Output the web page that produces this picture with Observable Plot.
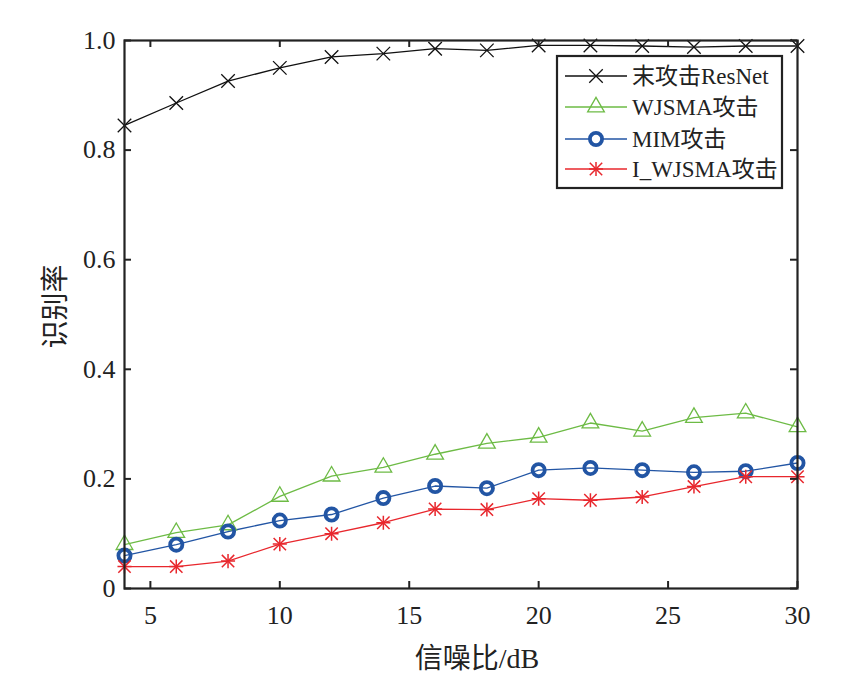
<!DOCTYPE html>
<html>
<head>
<meta charset="utf-8">
<script src="https://cdn.jsdelivr.net/npm/d3@7"></script>
<script src="https://cdn.jsdelivr.net/npm/@observablehq/plot@0.6"></script>
<style>
  html, body { margin: 0; padding: 0; background: #fff; }
  #chart { width: 848px; height: 686px; }
</style>
</head>
<body>
<div id="chart"></div>
<script>
// ---- data ----
const snr = [4, 6, 8, 10, 12, 14, 16, 18, 20, 22, 24, 26, 28, 30];
const resnet = [0.845, 0.886, 0.926, 0.950, 0.970, 0.976, 0.985, 0.982, 0.991, 0.991, 0.990, 0.988, 0.990, 0.990];
const wjsma  = [0.080, 0.102, 0.116, 0.168, 0.205, 0.221, 0.245, 0.265, 0.276, 0.302, 0.287, 0.312, 0.320, 0.295];
const mim    = [0.060, 0.080, 0.104, 0.124, 0.135, 0.165, 0.187, 0.183, 0.216, 0.220, 0.216, 0.212, 0.214, 0.229];
const iwjsma = [0.040, 0.040, 0.050, 0.081, 0.100, 0.120, 0.145, 0.144, 0.164, 0.161, 0.167, 0.186, 0.204, 0.204];

const seriesNames = ["末攻击ResNet", "WJSMA攻击", "MIM攻击", "I_WJSMA攻击"];
const seriesValues = [resnet, wjsma, mim, iwjsma];
const seriesColors = ["#111111", "#6dbb45", "#2255a4", "#e8272d"];
// each marker may be composed of one or more Plot symbols (MATLAB '*' = plus + times)
const seriesSymbols = [[["times", 6.2]], [["triangle", 6.2]], [["circle", 6.1]], [["plus", 4.6], ["times", 5.7]]];
const seriesMarkerWidth = [1.3, 1.3, 3.8, 1.5];

const xTicks = [5, 10, 15, 20, 25, 30];
const yTicks = [0, 0.2, 0.4, 0.6, 0.8, 1.0];
const xLabel = "信噪比/dB";
const yLabel = "识别率";

const xDomain = [4, 30];
const yDomain = [0, 1];

// ---- build rows ----
const rows = [];
seriesNames.forEach((name, i) => {
  snr.forEach((x, j) => rows.push({series: name, idx: i, x, y: seriesValues[i][j]}));
});

const font = "Liberation Serif, Noto Sans CJK SC, serif";

const marks = [];
seriesNames.forEach((name, i) => {
  const d = rows.filter(r => r.idx === i);
  marks.push(Plot.line(d, {x: "x", y: "y", stroke: seriesColors[i], strokeWidth: 1.3}));
});
seriesNames.forEach((name, i) => {
  const d = rows.filter(r => r.idx === i);
  seriesSymbols[i].forEach(([sym, r]) => {
    marks.push(Plot.dot(d, {
      x: "x", y: "y", symbol: () => sym, r,
      stroke: seriesColors[i], fill: "none", strokeWidth: seriesMarkerWidth[i]
    }));
  });
});

// inward tick marks (MATLAB style) on all four sides
const tx = 0.0128, ty = 0.27;
marks.push(Plot.ruleX(xTicks, {x: d => d, y1: yDomain[0], y2: yDomain[0] + tx, stroke: "#222", strokeWidth: 2}));
marks.push(Plot.ruleX(xTicks, {x: d => d, y1: yDomain[1], y2: yDomain[1] - tx, stroke: "#222", strokeWidth: 2}));
marks.push(Plot.ruleY(yTicks, {y: d => d, x1: xDomain[0], x2: xDomain[0] + ty, stroke: "#222", strokeWidth: 2}));
marks.push(Plot.ruleY(yTicks, {y: d => d, x1: xDomain[1], x2: xDomain[1] - ty, stroke: "#222", strokeWidth: 2}));

marks.push(Plot.frame({stroke: "#222", strokeWidth: 2.2}));

marks.push(Plot.axisX({ticks: xTicks, tickSize: 0, tickPadding: 17, label: null, fontSize: 26, fontFamily: font, fill: "#222", tickFormat: d => String(d)}));
marks.push(Plot.axisY({ticks: yTicks, tickSize: 0, tickPadding: 9, label: null, fontSize: 26, fontFamily: font, fill: "#222",
  tickFormat: d => d === 0 ? "0" : d.toFixed(1)}));

marks.push(Plot.text([xLabel], {text: d => d, frameAnchor: "bottom", textAnchor: "middle", dx: 16, dy: 79, fontSize: 28, fontFamily: font, fill: "#222"}));
marks.push(Plot.text([yLabel], {text: d => d, frameAnchor: "left", textAnchor: "middle", lineAnchor: "middle", dx: -68, dy: -8, rotate: -90, fontSize: 28, fontFamily: font, fill: "#222"}));

const chart = Plot.plot({
  width: 848,
  height: 686,
  marginLeft: 124,
  marginRight: 51,
  marginTop: 40,
  marginBottom: 98,
  x: {domain: xDomain},
  y: {domain: yDomain},
  style: {fontFamily: font, fontSize: "25px", color: "#222", background: "#fff", overflow: "visible"},
  marks
});

document.getElementById("chart").appendChild(chart);

// ---- legend (inside the plot, upper right) ----
const svg = d3.select(chart);
const lg = svg.append("g").attr("transform", "translate(557,56)").attr("text-anchor", "start");
const lgW = 225, lgH = 132;
lg.append("rect").attr("width", lgW).attr("height", lgH).attr("fill", "#fff").attr("stroke", "#222").attr("stroke-width", 2.2);
const symMap = {times: d3.symbolTimes, triangle: d3.symbolTriangle, circle: d3.symbolCircle, plus: d3.symbolPlus};
const rowY = [20, 51, 83, 113];
seriesNames.forEach((name, i) => {
  const g = lg.append("g").attr("transform", `translate(0,${rowY[i]})`);
  g.append("line").attr("x1", 8).attr("x2", 70).attr("y1", 0).attr("y2", 0)
    .attr("stroke", seriesColors[i]).attr("stroke-width", 1.3);
  seriesSymbols[i].forEach(([sym, r]) => {
    g.append("path").attr("transform", "translate(39,0)")
      .attr("d", d3.symbol(symMap[sym], Math.PI * r * r)())
      .attr("fill", sym === "circle" ? "#fff" : "none")
      .attr("stroke", seriesColors[i]).attr("stroke-width", seriesMarkerWidth[i]);
  });
  g.append("text").attr("x", 75).attr("y", 0).attr("dy", "0.35em").attr("text-anchor", "start")
    .attr("font-size", 23).attr("font-family", font).attr("fill", "#222").text(name);
});
</script>
</body>
</html>
